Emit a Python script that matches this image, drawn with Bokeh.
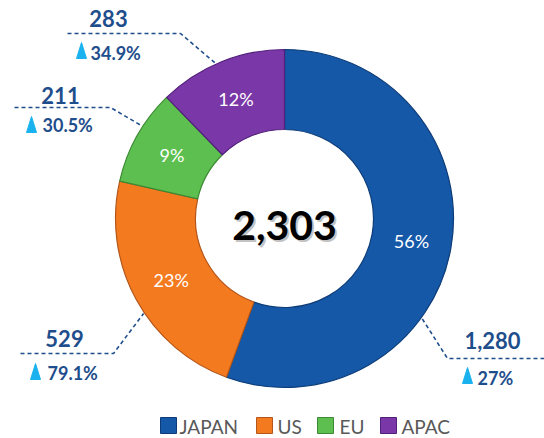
import math
from bokeh.plotting import figure
from bokeh.models import Range1d
from bokeh.core.properties import value
from bokeh.embed import file_html
from bokeh.resources import INLINE

# ---- data ----
categories = ["JAPAN", "US", "EU", "APAC"]
values = [1280, 529, 211, 283]
growth = ["27%", "79.1%", "30.5%", "34.9%"]
colors = ["#1558A7", "#F47A20", "#5CBF4F", "#7A37A7"]
edge_colors = ["#0D3C78", "#B4561A", "#3C8A34", "#52207A"]
total = sum(values)

# ---- layout (image pixel coordinates, y down) ----
IMG_W, IMG_H = 544, 438
CX, CY = 284, 218
R_OUT, R_IN = 169, 89
R_LEAD = 170
TOTAL_Y = 225
FONT = "Lato"
DARK = "#1F4E8C"
CYAN = "#1AB2EE"

lead_angle = [126, 236, 303, 336]            # clockwise from top (deg)
lead_start = [(544, 358), (20, 353), (14, 107), (67, 33)]
lead_elbow = [(447, 358), (113, 353), (110, 107), (180, 33)]
val_pos = [(492, 340), (64, 338), (60, 94.5), (108, 18)]      # centre of caps
gro_pos = [(477, 377.5), (47, 372.5), (42, 124.5), (90, 52.5)]
tri_pos = [(462, 383), (30, 379), (26, 132), (76, 58)]
leg_sq_x = [168, 264, 325, 388]
leg_tx_x = [179, 277, 339, 401]
LEG_Y = 426


def Y(y):
    return IMG_H - y


p = figure(width=IMG_W, height=IMG_H, x_range=Range1d(0, IMG_W), y_range=Range1d(0, IMG_H),
           output_backend="svg", toolbar_location=None, min_border=0,
           x_axis_type=None, y_axis_type=None)
p.grid.visible = False
p.outline_line_color = None
p.background_fill_color = "white"
p.border_fill_color = "white"

# ---- donut ----
starts, ends, mids = [], [], []
cum = 0
for v in values:
    a0 = cum / total
    cum += v
    a1 = cum / total
    starts.append(math.pi / 2 - 2 * math.pi * a0)
    ends.append(math.pi / 2 - 2 * math.pi * a1)
    mids.append(2 * math.pi * (a0 + a1) / 2)

p.annular_wedge(x=[CX] * 4, y=[Y(CY)] * 4, inner_radius=R_IN, outer_radius=R_OUT,
                start_angle=starts, end_angle=ends, direction="clock",
                fill_color=colors, line_color=edge_colors, line_width=1.2)

# percent labels
R_MID = (R_OUT + R_IN) / 2
lx = [CX + R_MID * math.sin(m) for m in mids]
ly = [Y(CY - R_MID * math.cos(m)) for m in mids]
pct = [f"{round(100 * v / total)}%" for v in values]
p.text(x=lx, y=ly, text=pct, text_font=value(FONT), text_font_size="18px",
       text_color="white", text_align="center", text_baseline="middle")

# center total with shadow
tot_txt = f"{total:,}"
p.text(x=[CX + 2], y=[Y(TOTAL_Y) - 2], text=[tot_txt], text_font=value(FONT),
       text_font_size="41px", text_font_style="bold", text_color="#9a9a9a",
       text_alpha=0.6, text_align="center", text_baseline="middle")
p.text(x=[CX], y=[Y(TOTAL_Y)], text=[tot_txt], text_font=value(FONT),
       text_font_size="41px", text_font_style="bold", text_color="black",
       text_align="center", text_baseline="middle")

# ---- callouts ----
for i in range(4):
    a = math.radians(lead_angle[i])
    ex = CX + R_LEAD * math.sin(a)
    ey = CY - R_LEAD * math.cos(a)
    xs = [lead_start[i][0], lead_elbow[i][0], ex]
    ys = [Y(lead_start[i][1]), Y(lead_elbow[i][1]), Y(ey)]
    p.line(xs, ys, line_color=DARK, line_width=1.6, line_dash="4 3")
    tx, tb = tri_pos[i]
    p.patch([tx, tx + 10, tx + 5], [Y(tb), Y(tb), Y(tb - 16)],
            fill_color=CYAN, line_color=CYAN)

p.text(x=[v[0] for v in val_pos], y=[Y(v[1]) for v in val_pos],
       text=[f"{v:,}" for v in values], text_font=value(FONT),
       text_font_size="22px", text_font_style="bold", text_color=DARK,
       text_align="center", text_baseline="middle")
p.text(x=[g[0] for g in gro_pos], y=[Y(g[1]) for g in gro_pos], text=growth,
       text_font=value(FONT), text_font_size="18px", text_font_style="bold",
       text_color=DARK, text_align="left", text_baseline="middle")

# ---- legend ----
p.scatter(x=leg_sq_x, y=[Y(LEG_Y - 1)] * 4, marker="square", size=16,
          fill_color=colors, line_color=edge_colors, line_width=1)
p.text(x=leg_tx_x, y=[Y(LEG_Y)] * 4, text=categories, text_font=value(FONT),
       text_font_size="19px", text_color="#595959", text_align="left",
       text_baseline="middle")

open("out.html", "w").write(file_html(p, INLINE))
